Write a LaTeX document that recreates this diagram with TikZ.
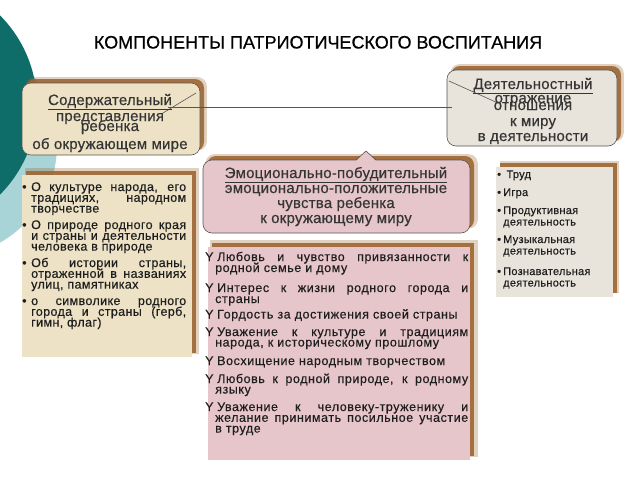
\documentclass[tikz,border=0pt]{standalone}
\usepackage{fontspec}
\setmainfont{Liberation Sans}
\newfontfamily\titlefont[FakeBold=0.6]{Liberation Sans}
\newfontfamily\hdrfont[FakeBold=0.5, LetterSpace=1.5]{Liberation Sans}
\newfontfamily\leftfont[FakeBold=0.4, LetterSpace=3]{Liberation Sans}
\newfontfamily\midfont[FakeBold=0.4, LetterSpace=4.5]{Liberation Sans}
\newfontfamily\rightfont[FakeBold=0.4, LetterSpace=2.5]{Liberation Sans}
\usetikzlibrary{shadows}
\definecolor{tealD}{HTML}{0F6D69}
\definecolor{tealL}{HTML}{A8D3D7}
\definecolor{beige}{HTML}{EDE2C5}
\definecolor{pinkb}{HTML}{E7C6CB}
\definecolor{grayb}{HTML}{E8E4DB}
\definecolor{shadc}{HTML}{9E6733}
\definecolor{bord}{HTML}{555555}
\definecolor{txtc}{HTML}{1E1E1E}
\newcommand\vlines[2]{\vtop{\baselineskip=#1\lineskiplimit=-100pt\lineskip=0pt\relax #2}}
\newcommand\jline[2]{\hbox to #1{#2}}
\tikzset{
  brownshadow/.style={drop shadow={shadow xshift=4pt, shadow yshift=4pt, fill=shadc, opacity=0.9},
                      drop shadow={shadow xshift=5pt, shadow yshift=5pt, shadow scale=1.02, fill=shadc, opacity=0.3}},
  boxbase/.style={inner sep=0pt, outer sep=0pt, anchor=north west, brownshadow},
  hdrbox/.style={boxbase, rounded corners=9pt, draw=bord, line width=0.6pt},
  contbox/.style={boxbase},
  conn/.style={draw=bord, line width=0.7pt},
  hdr/.style={inner sep=0pt, text=txtc!90!white, anchor=base, font=\hdrfont\fontsize{15}{15}\selectfont},
  itmL/.style={inner sep=0pt, text=txtc, anchor=base west, font=\leftfont\fontsize{12.5}{12.5}\selectfont},
  itmM/.style={inner sep=0pt, text=txtc, anchor=base west, font=\midfont\fontsize{12.5}{12.5}\selectfont},
  itmR/.style={inner sep=0pt, text=txtc, anchor=base west, font=\rightfont\fontsize{11}{11}\selectfont},
}
\begin{document}
\begin{tikzpicture}[x=1pt, y=-1pt]
\useasboundingbox (0,0) rectangle (640,480);
\fill[white] (0,0) rectangle (640,480);
% background circles
\fill[tealL] (-55,145) circle[radius=112];
\fill[tealD] (-90,105) circle[radius=127];

% title
\node[inner sep=0pt, anchor=base, text=black, font=\titlefont\fontsize{18}{18}\selectfont] (title) at (318,48.5) {КОМПОНЕНТЫ ПАТРИОТИЧЕСКОГО ВОСПИТАНИЯ};

% header boxes
\node[hdrbox, fill=beige, minimum width=178pt, minimum height=72pt] (hl) at (22,83) {};
\node[hdrbox, fill=grayb, minimum width=170pt, minimum height=76pt] (hr) at (447,70) {};
\node[hdrbox, fill=pinkb, minimum width=267pt, minimum height=73pt] (hm) at (203,160) {};
% callout pointers
\draw[bord, line width=0.6pt] (hl.north east) ++(-4,10) -- ++(-33,20);
\draw[bord, line width=0.6pt] (hr.north west) ++(2,11) -- ++(49,22);
\fill[pinkb] (356,160.8) -- (366,151) -- (376,160.8) -- cycle;
\draw[bord, line width=0.6pt] (356,160) -- (366,151) -- (376,160);

% content boxes
\node[contbox, fill=beige, minimum width=170pt, minimum height=182pt] (cl) at (22,175) {};
\node[contbox, fill=pinkb, minimum width=262pt, minimum height=213pt] (cm) at (208,247) {};
\node[contbox, fill=grayb, minimum width=117pt, minimum height=130pt] (cr) at (496,167) {};

% connector
\coordinate (tipL) at (168,107);
\coordinate (tipR) at (452,107);
\draw[conn] (tipL) -- (tipR);

% left header text
\node[hdr] (hl1) at (110,105) {\underline{Содержательный}};
\node[hdr] (hl2) at (110,121) {представления};
\node[hdr] (hl3) at (110,131) {ребенка};
\node[hdr] (hl4) at (110,149) {об окружающем мире};

% right header text
\node[hdr] (hr1) at (533,89) {\underline{Деятельностный}};
\node[hdr] (hr2) at (533,103) {отражение};
\node[hdr] (hr3) at (533,110) {отношения};
\node[hdr] (hr4) at (533,126) {к миру};
\node[hdr] (hr5) at (533,141) {в деятельности};

% middle header text
\node[hdr] (hm1) at (336,178) {\underline{Эмоционально-побудительный}};
\node[hdr] (hm2) at (336,193) {эмоционально-положительные};
\node[hdr] (hm3) at (336,208) {чувства ребенка};
\node[hdr] (hm4) at (336,223) {к окружающему миру};

% left content
\node[itmL] (l1) at (22,191) {\vlines{10.8pt}{%
  \jline{164pt}{\makebox[9pt][l]{\textbullet}О культуре народа, его}%
  \hbox{\hskip9pt\jline{155pt}{традициях, народном}}%
  \hbox{\hskip9pt творчестве}}};
\node[itmL] (l2) at (22,229) {\vlines{10.8pt}{%
  \jline{164pt}{\makebox[9pt][l]{\textbullet}О природе родного края}%
  \hbox{\hskip9pt\jline{155pt}{и страны и деятельности}}%
  \hbox{\hskip9pt человека в природе}}};
\node[itmL] (l3) at (22,267) {\vlines{10.8pt}{%
  \jline{164pt}{\makebox[9pt][l]{\textbullet}Об истории страны,}%
  \hbox{\hskip9pt\jline{155pt}{отраженной в названиях}}%
  \hbox{\hskip9pt улиц, памятниках}}};
\node[itmL] (l4) at (22,305) {\vlines{10.8pt}{%
  \jline{164pt}{\makebox[9pt][l]{\textbullet}о символике родного}%
  \hbox{\hskip9pt\jline{155pt}{города и страны (герб,}}%
  \hbox{\hskip9pt гимн, флаг)}}};

% middle content
\node[itmM] (m1) at (205,261) {\vlines{11pt}{%
  \jline{263pt}{\makebox[12pt][l]{Y}Любовь и чувство привязанности к}%
  \hbox{\hskip10pt родной семье и дому}}};
\node[itmM] (m2) at (205,292) {\vlines{11pt}{%
  \jline{263pt}{\makebox[12pt][l]{Y}Интерес к жизни родного города и}%
  \hbox{\hskip10pt страны}}};
\node[itmM] (m3) at (205,318.5) {\makebox[12pt][l]{Y}Гордость за достижения своей страны};
\node[itmM] (m4) at (205,336) {\vlines{10.5pt}{%
  \jline{263pt}{\makebox[12pt][l]{Y}Уважение к культуре и традициям}%
  \hbox{\hskip10pt народа, к историческому прошлому}}};
\node[itmM] (m5) at (205,365) {\makebox[12pt][l]{Y}Восхищение народным творчеством};
\node[itmM] (m6) at (205,383) {\vlines{10.5pt}{%
  \jline{263pt}{\makebox[12pt][l]{Y}Любовь к родной природе, к родному}%
  \hbox{\hskip10pt языку}}};
\node[itmM] (m7) at (205,411) {\vlines{10.8pt}{%
  \jline{263pt}{\makebox[12pt][l]{Y}Уважение к человеку-труженику и}%
  \hbox{\hskip10pt\jline{253pt}{желание принимать посильное участие}}%
  \hbox{\hskip10pt в труде}}};

% right content
\node[itmR] (r1) at (497,178) {\makebox[6pt][l]{\textbullet} Труд};
\node[itmR] (r2) at (497,196) {\makebox[6pt][l]{\textbullet}Игра};
\node[itmR] (r3) at (497,214) {\vlines{11.5pt}{\hbox{\makebox[6pt][l]{\textbullet}Продуктивная}\hbox{\hskip6pt деятельность}}};
\node[itmR] (r4) at (497,243) {\vlines{11.5pt}{\hbox{\makebox[6pt][l]{\textbullet}Музыкальная}\hbox{\hskip6pt деятельность}}};
\node[itmR] (r5) at (497,275) {\vlines{11.5pt}{\hbox{\makebox[6pt][l]{\textbullet}Познавательная}\hbox{\hskip6pt деятельность}}};
\end{tikzpicture}
\end{document}
